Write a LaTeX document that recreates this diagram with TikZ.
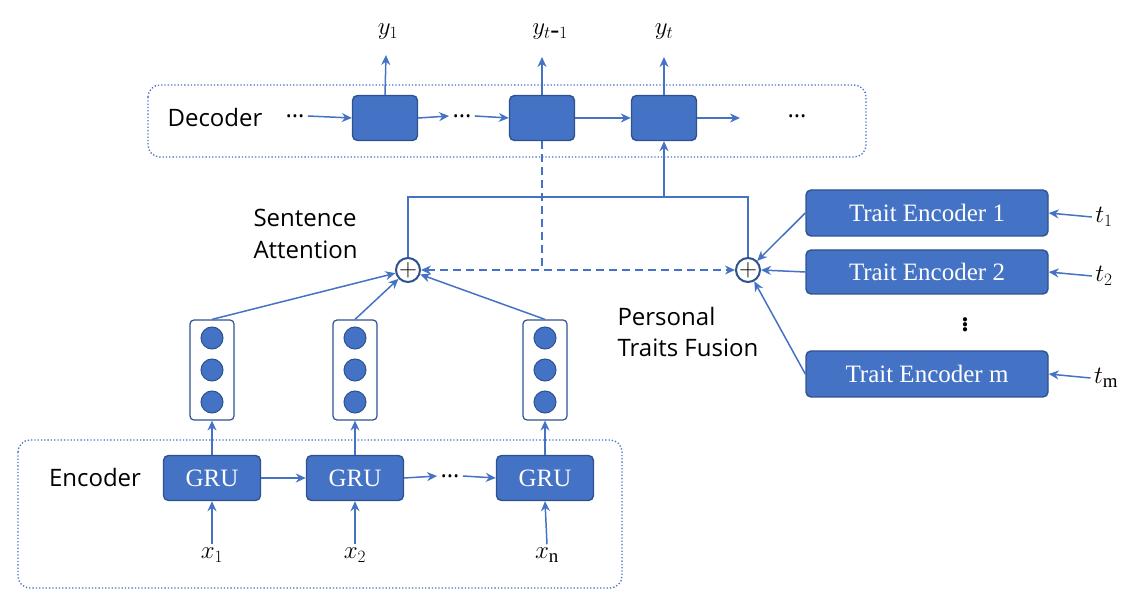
\documentclass[tikz,border=0pt]{standalone}
\usepackage{fontspec}
\setmainfont{Liberation Serif}
\newfontfamily\lblfont{Open Sans}
\usetikzlibrary{arrows.meta}
\definecolor{bl}{HTML}{4472C4}
\definecolor{dk}{HTML}{2F528F}
\begin{document}
\begin{tikzpicture}[x=1pt,y=-1pt,
  cell/.style={draw=dk,fill=bl,line width=1.4pt,rounded corners=5pt,inner sep=0pt},
  col/.style={draw=dk,line width=1.2pt,rounded corners=4pt,minimum width=44pt,minimum height=100pt,inner sep=0pt},
  dot/.style={circle,draw=dk,fill=bl,minimum size=22pt,inner sep=0pt,line width=1pt},
  ln/.style={draw=bl,line width=1.5pt},
  arr/.style={ln,-{Stealth[length=10pt,width=9pt]}},
  dsh/.style={dash pattern=on 8pt off 5pt},
  frame/.style={draw=bl,line width=1.3pt,dotted,rounded corners=12pt},
  lbl/.style={font=\lblfont\fontsize{24}{32}\selectfont},
  mth/.style={font=\fontsize{27}{28}\selectfont},
  wt/.style={text=white,font=\fontsize{25}{27}\selectfont},
  plus/.style={circle,draw=dk,fill=white,line width=2pt,minimum size=24pt,inner sep=0pt,font=\fontsize{26}{26}\selectfont}]
\useasboundingbox (0,0) rectangle (1135,609);
% decoder
\draw[frame] (148,85) rectangle (866,157);
\node[lbl] (dec) at (215,118) {Decoder};
\node[lbl] (dd0) at (295,116) {…};
\node[cell,minimum width=65pt,minimum height=45pt] (c1) at (385,118) {};
\node[cell,minimum width=65pt,minimum height=45pt] (c2) at (542,118) {};
\node[cell,minimum width=65pt,minimum height=45pt] (c3) at (664,118) {};
\node[lbl] (dd1) at (462,116) {…};
\node[lbl] (dd2) at (797,116) {…};
\coordinate (e3) at (740,118);
\node[mth] (y1) at (388,32) {$y_1$};
\node[mth] (y2) at (550,32) {$y_{t\mbox{-}1}$};
\node[mth] (y3) at (664,32) {$y_t$};
\draw[arr] (dd0.east) -- (c1.west);
\draw[arr] (c1.east) -- (dd1.west);
\draw[arr] (dd1.east) -- (c2.west);
\draw[arr] (c2.east) -- (c3.west);
\draw[arr] (c3.east) -- (e3);
\draw[arr] (c1.north) -- (386,55);
\draw[arr] (c2.north) -- (542,57);
\draw[arr] (c3.north) -- (664,57);
% plus nodes
\node[plus] (p1) at (408,270) {$+$};
\node[plus] (p2) at (748,270) {$+$};
\draw[ln] (p1.north) |- (748,197) -- (p2.north);
\draw[arr] (664,197) -- (c3.south);
\draw[ln,dsh] (c2.south) -- (542,270);
\draw[ln,dsh,{Stealth[length=10pt,width=9pt]}-{Stealth[length=10pt,width=9pt]}] (p1.east) -- (p2.west);
\node[lbl,align=left,anchor=west] (sa) at (250,234) {Sentence\\Attention};
\node[lbl,align=left,anchor=west] (pt) at (614,332) {Personal\\Traits Fusion};
% traits
\node[cell,minimum width=242pt,minimum height=46pt,wt] (t1) at (927,213) {Trait Encoder 1};
\node[cell,minimum width=242pt,minimum height=44pt,wt] (t2) at (927,272) {Trait Encoder 2};
\node[cell,minimum width=242pt,minimum height=46pt,wt] (t3) at (927,374) {Trait Encoder m};
\node[font=\bfseries\fontsize{26}{28}\selectfont] (vd) at (965,322) {$\vdots$};
\node[mth] (l1) at (1104,217) {$t_1$};
\node[mth] (l2) at (1104,276) {$t_2$};
\node[mth] (l3) at (1106,378) {$t_{\mathrm{m}}$};
\draw[arr] (l1.west) -- (t1.east);
\draw[arr] (l2.west) -- (t2.east);
\draw[arr] (l3.west) -- (t3.east);
\draw[arr] (t1.west) -- (p2);
\draw[arr] (t2.west) -- (p2.east);
\draw[arr] (t3.west) -- (p2);
% encoder
\draw[frame] (18,440) rectangle (622,588);
\node[lbl] (enc) at (95,477) {Encoder};
\foreach \i/\x in {1/212,2/355,3/545}{
  \node[col] (k\i) at (\x,370) {};
  \node[dot] at (\x,338) {};
  \node[dot] at (\x,370) {};
  \node[dot] at (\x,402) {};
  \node[cell,minimum width=97pt,minimum height=45pt,wt] (g\i) at (\x,478) {GRU};
  \draw[arr] (g\i.north) -- (k\i.south);
  \draw[arr] (k\i.north) -- (p1);
}
\node[mth] (x1) at (212,555) {$x_1$};
\node[mth] (x2) at (355,555) {$x_2$};
\node[mth] (x3) at (547,555) {$x_{\mathrm{n}}$};
\draw[arr] (x1.north) -- (g1.south);
\draw[arr] (x2.north) -- (g2.south);
\draw[arr] (x3.north) -- (g3.south);
\node[lbl] (ed) at (450,476) {…};
\draw[arr] (g1.east) -- (g2.west);
\draw[arr] (g2.east) -- (ed.west);
\draw[arr] (ed.east) -- (g3.west);
\end{tikzpicture}
\end{document}
